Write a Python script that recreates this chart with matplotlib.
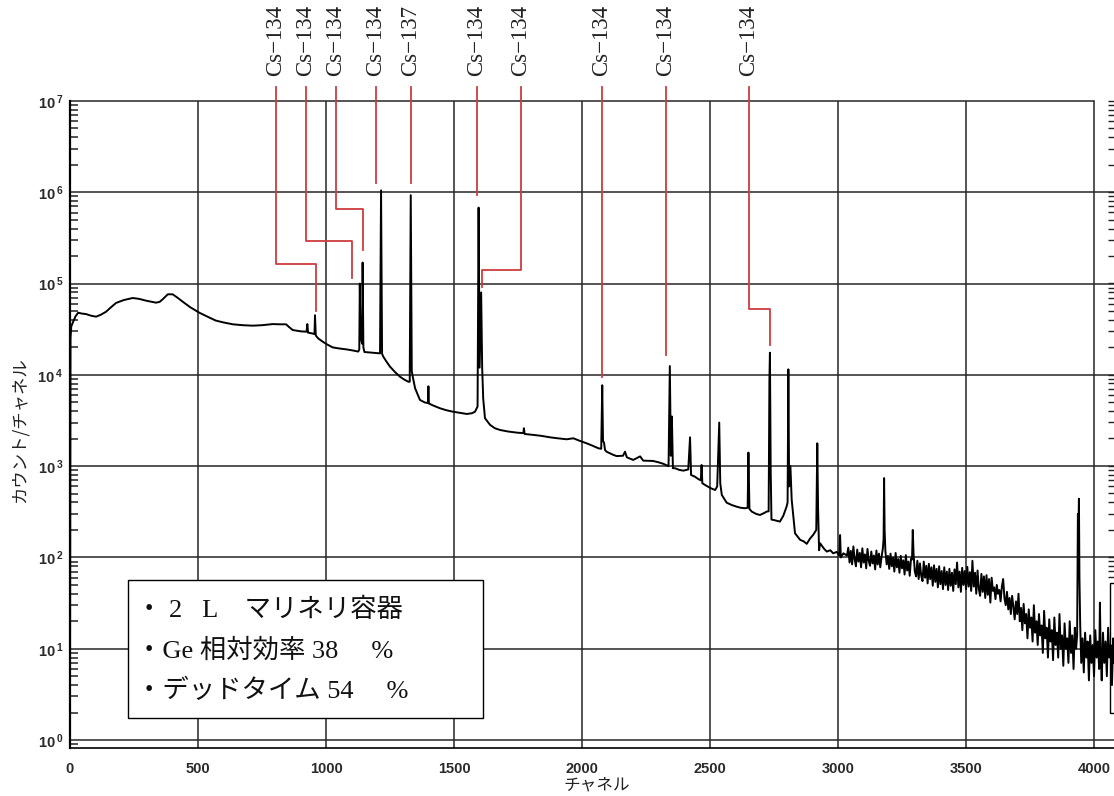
# -*- coding: utf-8 -*-

import numpy as np
import matplotlib
matplotlib.use('Agg')
from matplotlib import pyplot as plt
from matplotlib.patches import Rectangle
from matplotlib.ticker import LogLocator, NullFormatter, FuncFormatter


#%%
# spectrum: channel / counts per channel (up to ch 3035)
spec_ch = [0, 2, 5, 12, 22, 32, 45, 62, 82, 102, 120, 141, 160, 180, 210, 245, 270, 297, 320, 336,
           350, 362, 382, 401, 420, 440, 470, 505, 540, 570, 600, 636, 675, 714, 750, 792, 820, 844,
           858, 870, 900, 924, 927, 930, 945, 955, 957, 960, 970, 987, 1005, 1026, 1050, 1081, 1105,
           1126, 1130, 1132, 1135, 1141, 1143, 1146, 1150, 1180, 1211, 1215, 1219, 1224, 1236, 1250,
           1270, 1289, 1305, 1321, 1327, 1331, 1335, 1339, 1348, 1367, 1385, 1398, 1400, 1402, 1420,
           1445, 1470, 1496, 1520, 1550, 1570, 1582, 1592, 1596, 1600, 1606, 1610, 1614, 1621, 1641,
           1660, 1680, 1710, 1745, 1771, 1773, 1776, 1810, 1840, 1875, 1905, 1940, 1966, 1990, 2018,
           2040, 2064, 2075, 2079, 2082, 2086, 2090, 2096, 2122, 2135, 2160, 2168, 2175, 2200, 2227,
           2239, 2278, 2300, 2318, 2338, 2343, 2347, 2351, 2355, 2363, 2380, 2396, 2415, 2422, 2426,
           2441, 2455, 2464, 2467, 2470, 2487, 2505, 2520, 2528, 2536, 2540, 2546, 2565, 2585, 2604,
           2620, 2637, 2647, 2650, 2654, 2663, 2680, 2695, 2710, 2721, 2729, 2732, 2734, 2737, 2740,
           2747, 2773, 2786, 2799, 2803, 2806, 2809, 2814, 2819, 2832, 2852, 2866, 2878, 2890, 2903,
           2915, 2919, 2922, 2926, 2930, 2945, 2956, 2970, 2981, 2995, 3005, 3008, 3011, 3021, 3035]
spec_cnt = [3.1, 2.5e4, 3.4e4, 3.8e4, 4.4e4, 4.8e4, 4.7e4, 4.64e4, 4.45e4, 4.34e4, 4.55e4, 4.92e4,
            5.5e4, 6.14e4, 6.6e4, 6.95e4, 6.8e4, 6.5e4, 6.3e4, 6.18e4, 6.3e4, 6.73e4, 7.63e4, 7.63e4,
            7.0e4, 6.34e4, 5.5e4, 4.8e4, 4.3e4, 3.93e4, 3.75e4, 3.58e4, 3.5e4, 3.46e4, 3.5e4, 3.6e4,
            3.58e4, 3.58e4, 3.3e4, 3.1e4, 3.0e4, 2.97e4, 3.6e4, 2.9e4, 2.85e4, 2.8e4, 4.5e4, 2.7e4,
            2.5e4, 2.31e4, 2.15e4, 2.0e4, 1.95e4, 1.9e4, 1.85e4, 1.8e4, 1.9e4, 1.0e5, 2.6e4, 2.2e4,
            1.7e5, 2.0e4, 1.78e4, 1.75e4, 1.72e4, 1.05e6, 1.7e4, 1.58e4, 1.4e4, 1.23e4, 1.07e4,
            9.55e3, 8.9e3, 8.43e3, 8.4e3, 9.3e5, 1.1e4, 9.5e3, 7.13e3, 5.31e3, 5.0e3, 4.9e3, 7.5e3,
            4.85e3, 4.6e3, 4.31e3, 4.1e3, 3.95e3, 3.85e3, 3.73e3, 3.8e3, 3.95e3, 4.5e3, 6.8e5, 1.2e4,
            8.0e4, 1.2e4, 5.5e3, 3.35e3, 2.83e3, 2.6e3, 2.49e3, 2.4e3, 2.33e3, 2.3e3, 2.6e3, 2.25e3,
            2.2e3, 2.15e3, 2.07e3, 2.02e3, 1.97e3, 2.02e3, 1.9e3, 1.78e3, 1.68e3, 1.57e3, 1.55e3,
            7.7e3, 1.9e3, 1.8e3, 1.5e3, 1.44e3, 1.33e3, 1.29e3, 1.3e3, 1.44e3, 1.25e3, 1.17e3, 1.28e3,
            1.15e3, 1.14e3, 1.1e3, 1.06e3, 1.0e3, 1.25e4, 1.3e3, 3.5e3, 950, 950, 910, 893, 920,
            2070, 800, 767, 720, 700, 1030, 650, 607, 570, 548, 600, 3000, 650, 484, 398, 375, 360,
            350, 346, 350, 1410, 340, 318, 300, 292, 305, 318, 320, 8.8e3, 1.75e4, 900, 260,
            258, 247, 285, 360, 400, 1.15e4, 600, 1000, 430, 184, 156, 150, 141, 160, 177,
            200, 1780, 350, 120, 143, 125, 116, 120, 111, 115, 105, 176, 100, 111, 105]

# noisy high-channel tail, read stroke by stroke
tail_ch = [3040, 3045, 3050, 3055, 3060, 3065, 3070, 3075, 3080, 3085, 3090, 3095, 3100, 3105, 3110,
           3115, 3120, 3125, 3130, 3135, 3140, 3145, 3150, 3155, 3160, 3165, 3170, 3175, 3178, 3180,
           3182, 3185, 3190,
           3195, 3200, 3205, 3210, 3215, 3220, 3225, 3230, 3235, 3240, 3245, 3250, 3255, 3260, 3265,
           3270, 3275, 3280, 3285, 3289, 3292, 3295, 3300, 3305,
           3310, 3315, 3320, 3325, 3330, 3335, 3340, 3345, 3350, 3355, 3360, 3365, 3370, 3375, 3380,
           3385, 3390, 3395, 3400,
           3405, 3410, 3415, 3420, 3425, 3430, 3435, 3440, 3445, 3450, 3455, 3460, 3465, 3470, 3475,
           3480, 3485, 3490, 3495, 3500,
           3505, 3510, 3515, 3520, 3525, 3530, 3535, 3540, 3545, 3550, 3555, 3560, 3565, 3570, 3575,
           3580, 3585, 3590, 3595, 3600,
           3605, 3610, 3615, 3620, 3625, 3630, 3635, 3640, 3645, 3650, 3655, 3660, 3665, 3670, 3675,
           3680, 3685, 3690, 3695, 3700,
           3705, 3710, 3715, 3720, 3725, 3730, 3735, 3740, 3745, 3750, 3755, 3760, 3765, 3770, 3775,
           3780, 3785, 3790, 3795, 3800,
           3805, 3810, 3815, 3820, 3825, 3830, 3835, 3840, 3845, 3850, 3855, 3860, 3865, 3870, 3875,
           3880, 3885, 3890, 3895, 3900,
           3905, 3910, 3915, 3920, 3925, 3930, 3934, 3937, 3939, 3941, 3943, 3946, 3950, 3955, 3960,
           3965, 3970, 3975, 3980, 3985, 3990, 3995, 4000,
           4005, 4010, 4015, 4020, 4023, 4026, 4030, 4035, 4040, 4045, 4050, 4055, 4060, 4065, 4070,
           4075, 4078]
tail_cnt = [128, 88, 118, 84, 132, 95, 80, 122, 90, 112, 78, 126, 88, 108, 76,
            124, 92, 81, 116, 86, 105, 74, 119, 84, 110, 78, 101, 125, 160, 740,
            200, 118, 84,
            104, 75, 110, 80, 99, 70, 112, 78, 96, 68, 104, 76, 93, 65, 106,
            72, 90, 63, 97, 95, 200, 110, 70, 62,
            92, 58, 86, 63, 55, 90, 60, 81, 52, 85, 58, 78, 49, 82, 54,
            75, 47, 80, 51,
            71, 45, 78, 50, 70, 44, 75, 49, 68, 43, 74, 51, 88, 47, 70,
            42, 77, 50, 71, 45,
            79, 48, 69, 43, 92, 48, 68, 40, 72, 45, 38, 66, 42, 62, 36,
            64, 39, 58, 32, 60,
            43, 47, 35, 50, 40, 44, 33, 48, 58, 36, 30, 42, 27, 36, 24,
            38, 29, 21, 33, 24,
            40, 20, 28, 16, 31, 19, 24, 13, 27, 17, 22, 12, 30, 15, 20,
            11, 24, 14, 18, 9,
            26, 13, 17, 8, 21, 12, 16, 7.5, 22, 11, 15, 8, 24, 10, 14,
            6.5, 19, 10, 13, 7,
            20, 9, 14, 6, 17, 10, 14, 300, 180, 440, 60, 18, 7, 13, 5.5,
            15, 8, 12, 4.5, 14, 7, 11, 5,
            16, 8, 12, 6, 32, 9, 4.5, 15, 7, 12, 5, 17, 8, 11, 4,
            13, 7]

# nuclide labels and where their leader lines point
label_names = ['Cs−134', 'Cs−134', 'Cs−134', 'Cs−134', 'Cs−137',
               'Cs−134', 'Cs−134', 'Cs−134', 'Cs−134', 'Cs−134']
label_ch = [805, 922, 1039, 1195, 1332, 1590, 1762, 2078, 2328, 2652]
elbow_cnt = [1.64e5, 2.93e5, 6.56e5, 1.26e6, 1.26e6, 9.3e5, 1.41e5, 9.5e3, 1.65e4, 5.27e4]
tip_ch = [961, 1102, 1145, 1195, 1332, 1590, 1609, 2078, 2328, 2734]
tip_cnt = [5.0e4, 1.15e5, 2.33e5, 1.26e6, 1.26e6, 9.3e5, 9.2e4, 9.5e3, 1.65e4, 2.13e4]

legend_lines = ['・ 2   L\u3000マリネリ容器', '・Ge 相対効率 38\u3000 %', '・デッドタイム 54\u3000 %']

x_ticks = [0, 500, 1000, 1500, 2000, 2500, 3000, 3500, 4000]
y_ticks = [1e0, 1e1, 1e2, 1e3, 1e4, 1e5, 1e6, 1e7]


#%%
W, H = 1114, 796
fig = plt.figure(figsize=(W / 100, H / 100), dpi=100)
ax = fig.add_axes([70 / W, 48 / H, 1044 / W, 647 / H])

ax.set_yscale('log')
ax.set_xlim(0, 4078)
ax.set_ylim(0.818, 1e7)

gridc = '#262626'
ax.set_xticks(x_ticks)
ax.set_yticks(y_ticks)
ax.grid(True, axis='x', color=gridc, lw=1.1, zorder=1)
ax.set_axisbelow(True)
for v in y_ticks[:-1]:
    ax.axhline(v, color=gridc, lw=1.1, zorder=1)
ax.plot([0, 4000], [1e7, 1e7], color=gridc, lw=1.1, clip_on=False, zorder=1)

ax.spines['top'].set_visible(False)
ax.spines['right'].set_visible(False)
ax.spines['left'].set_linewidth(1.6)
ax.spines['bottom'].set_linewidth(1.2)

ax.yaxis.set_minor_locator(LogLocator(base=10, subs=np.arange(2, 10)))
ax.yaxis.set_minor_formatter(NullFormatter())
ax.yaxis.set_major_formatter(FuncFormatter(
    lambda v, p: r'$\mathdefault{10^{\,%d}}$' % int(round(np.log10(v)))))
ax.tick_params(axis='y', which='minor', direction='in', length=6, width=1.1, color='#222')
ax.tick_params(axis='y', which='major', length=0, pad=5)
ax.tick_params(axis='x', which='both', length=0, pad=10)
for lab in ax.get_xticklabels() + ax.get_yticklabels():
    lab.set_fontfamily(['Liberation Sans', 'DejaVu Sans'])
    lab.set_fontweight('bold')
    lab.set_fontsize(10.5)
    lab.set_color('#2a2a2a')

# spectrum
ax.plot(np.concatenate([spec_ch, tail_ch]), np.concatenate([spec_cnt, tail_cnt]),
        color='black', lw=1.4, zorder=2)

# leader lines and nuclide names
red = '#cf3c3e'
for name, lc, ec, tc, tn in zip(label_names, label_ch, elbow_cnt, tip_ch, tip_cnt):
    ax.plot([lc, lc, tc, tc], [1.42e7, ec, ec, tn], color=red, lw=1.3,
            clip_on=False, zorder=3)
    ax.text(lc, 1.9e7, name, rotation=90, ha='center', va='bottom', fontsize=16.5,
            family=['Liberation Serif', 'DejaVu Serif'], color='#222', clip_on=False)

# info box
ax.add_patch(Rectangle((0.0556, 0.0464), 0.34, 0.2133, transform=ax.transAxes,
                       facecolor='white', edgecolor='black', lw=1.0, zorder=5))
for i, line in enumerate(legend_lines):
    ax.text(0.063, 0.213 - i * 0.0625, line, transform=ax.transAxes, ha='left', va='center',
            fontsize=19, family=['Liberation Serif', 'Noto Sans CJK JP'], color='#111', zorder=6)

# axis titles
fig.text(20 / W, 1 - 430 / H, 'カウント/チャネル', rotation=90, ha='center', va='center',
         fontsize=12.5, family=['Noto Sans CJK JP', 'DejaVu Sans'], color='#222')
fig.text(597 / W, 1 - 785 / H, 'チャネル', ha='center', va='center',
         fontsize=12, family=['Noto Sans CJK JP', 'DejaVu Sans'], color='#222')

# edge of the neighbouring chart on the right
ax2 = fig.add_axes([1108 / W, (H - 583) / H, 0.0005, 482 / H])
ax2.set_yscale('log')
ax2.set_ylim(52, 1e7)
ax2.set_xticks([])
ax2.patch.set_visible(False)
for s in ax2.spines.values():
    s.set_visible(False)
ax2.yaxis.set_minor_locator(LogLocator(base=10, subs=np.arange(2, 10)))
ax2.yaxis.set_minor_formatter(NullFormatter())
ax2.yaxis.set_major_formatter(NullFormatter())
ax2.tick_params(axis='y', which='both', direction='in', length=5, width=1.0, color='#222')
fig.patches.append(Rectangle((1110 / W, (H - 713) / H), 0.05, 130 / H, transform=fig.transFigure,
                             fill=False, edgecolor='black', lw=1.0))

fig.savefig('out.png', dpi=100)
